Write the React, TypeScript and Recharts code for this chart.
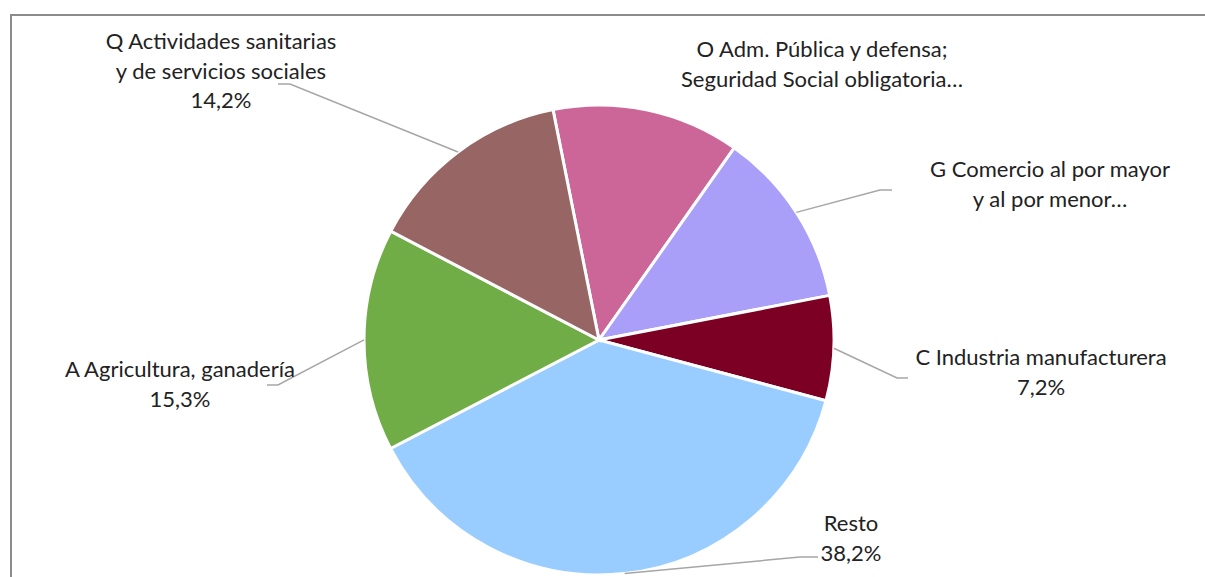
import { PieChart, Pie, Cell } from 'recharts';

// slice order runs clockwise from just left of 12 o'clock
const sectors = ['O', 'G', 'C', 'Resto', 'A', 'Q'];
const shares = [12.9, 12.2, 7.2, 38.2, 15.3, 14.2];
const labelTexts = [
  ['O Adm. Pública y defensa;', 'Seguridad Social obligatoria…'],
  ['G Comercio al por mayor', 'y al por menor…'],
  ['C Industria manufacturera', '7,2%'],
  ['Resto', '38,2%'],
  ['A Agricultura, ganadería', '15,3%'],
  ['Q Actividades sanitarias', 'y de servicios sociales', '14,2%'],
];
const colors = ['#CC6699', '#A99FF8', '#7B0023', '#99CCFF', '#70AD47', '#976563'];

const data = sectors.map((s, i) => ({ name: s, value: shares[i] }));

// label placement relative to pie centre: elbow / end of the leader, text centre and first baseline
const labelLayout = [
  { leader: false, ex: 0, ey: 0, lx: 0, tx: 223, ty: -283 },
  { leader: true, ex: 281, ey: -150, lx: 293, tx: 451, ty: -163 },
  { leader: true, ex: 298, ey: 38, lx: 309, tx: 442, ty: 25 },
  { leader: true, ex: 201, ey: 217, lx: 219, tx: 252, ty: 191 },
  { leader: true, ex: -321, ey: 45, lx: -332, tx: -419, ty: 37 },
  { leader: true, ex: -309, ey: -256, lx: -321, tx: -378, ty: -291 },
];

const RAD = Math.PI / 180;

function SliceLabel(props: any) {
  const { cx, cy, midAngle, outerRadius, index } = props;
  const lay = labelLayout[index];
  const sx = cx + outerRadius * Math.cos(-midAngle * RAD);
  const sy = cy + outerRadius * Math.sin(-midAngle * RAD);
  const lines = labelTexts[index];
  return (
    <g>
      {lay.leader && (
        <polyline
          points={`${sx},${sy} ${cx + lay.ex},${cy + lay.ey} ${cx + lay.lx},${cy + lay.ey}`}
          fill="none"
          stroke="#A6A6A6"
          strokeWidth={1.5}
        />
      )}
      <text
        x={cx + lay.tx}
        y={cy + lay.ty}
        textAnchor="middle"
        fill="#222"
        fontSize={22}
        fontFamily="Lato, 'Open Sans', sans-serif"
      >
        {lines.map((t, i) => (
          <tspan key={i} x={cx + lay.tx} dy={i === 0 ? 0 : 29.5}>
            {t}
          </tspan>
        ))}
      </text>
    </g>
  );
}

export default function App() {
  return (
    <div style={{ position: 'absolute', left: 0, top: 0, width: 1205, height: 577, background: '#fff', overflow: 'hidden' }}>
      <div
        style={{
          position: 'absolute',
          left: 10,
          top: 14,
          right: -10,
          bottom: -10,
          borderLeft: '2px solid #8c8c8c',
          borderTop: '2px solid #8c8c8c',
        }}
      />
      <PieChart width={1205} height={577} margin={{ top: 0, right: 0, bottom: 0, left: 0 }}>
        <Pie
          data={data}
          dataKey="value"
          nameKey="name"
          cx={599}
          cy={340}
          outerRadius={235}
          startAngle={101.3}
          endAngle={-258.7}
          stroke="#fff"
          strokeWidth={3}
          label={SliceLabel}
          labelLine={false}
          isAnimationActive={false}
        >
          {data.map((d, i) => (
            <Cell key={d.name} fill={colors[i]} />
          ))}
        </Pie>
      </PieChart>
    </div>
  );
}
